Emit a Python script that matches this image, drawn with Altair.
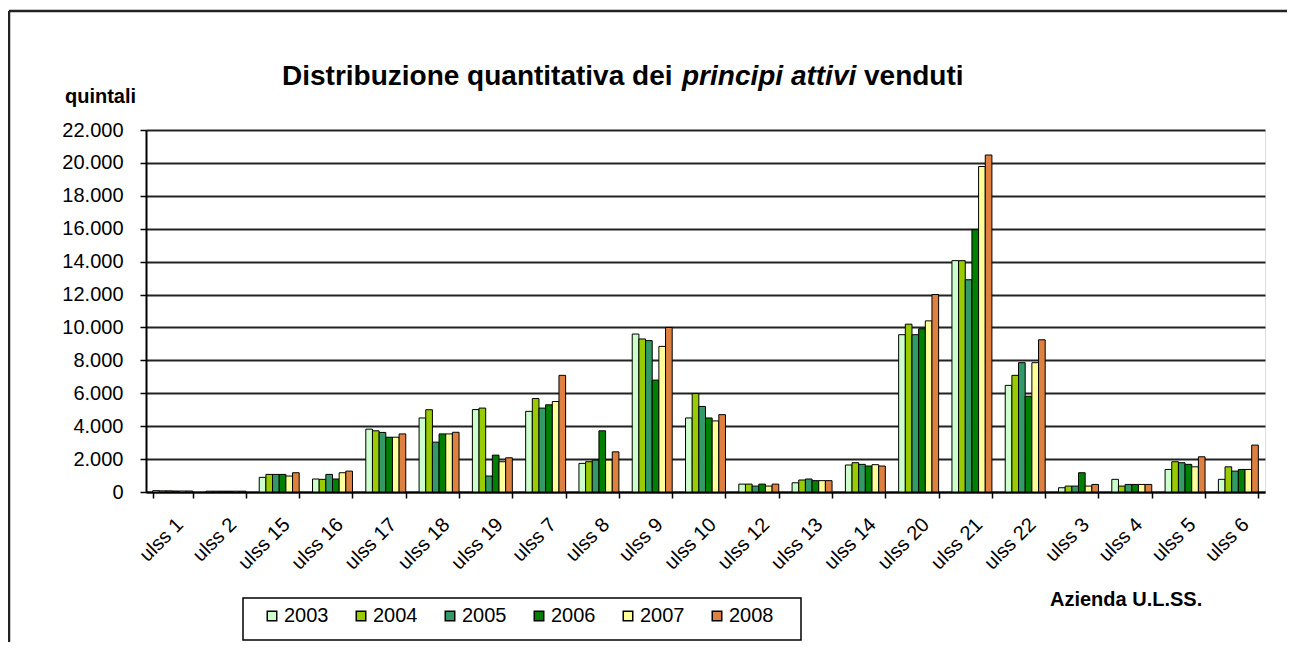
import altair as alt
import pandas as pd

categories = ["ulss 1", "ulss 2", "ulss 15", "ulss 16", "ulss 17", "ulss 18", "ulss 19",
              "ulss 7", "ulss 8", "ulss 9", "ulss 10", "ulss 12", "ulss 13", "ulss 14",
              "ulss 20", "ulss 21", "ulss 22", "ulss 3", "ulss 4", "ulss 5", "ulss 6"]
years = ["2003", "2004", "2005", "2006", "2007", "2008"]

v2003 = [80, 50, 890, 790, 3820, 4500, 5010, 4900, 1740, 9600, 4500, 480, 560, 1640, 9560, 14060, 6480, 260, 770, 1370, 770]
v2004 = [70, 50, 1070, 770, 3720, 5000, 5100, 5680, 1840, 9300, 5980, 480, 730, 1780, 10200, 14060, 7090, 360, 360, 1840, 1530]
v2005 = [70, 50, 1070, 1070, 3620, 3030, 970, 5100, 1940, 9200, 5200, 360, 790, 1680, 9560, 12900, 7860, 360, 460, 1780, 1270]
v2006 = [60, 50, 1070, 790, 3330, 3530, 2240, 5300, 3720, 6800, 4500, 480, 690, 1580, 9920, 15940, 5820, 1170, 460, 1680, 1370]
v2007 = [60, 50, 970, 1170, 3330, 3530, 1840, 5500, 1940, 8850, 4320, 360, 690, 1660, 10400, 19780, 7860, 360, 460, 1530, 1370]
v2008 = [60, 50, 1170, 1270, 3530, 3630, 2080, 7090, 2440, 10000, 4700, 480, 690, 1580, 12000, 20480, 9250, 460, 460, 2140, 2850]

colors = ["#CCFFCC", "#99CC00", "#339966", "#008000", "#FFFF99", "#DD8040"]
y_ticks = [0, 2000, 4000, 6000, 8000, 10000, 12000, 14000, 16000, 18000, 20000, 22000]

series = [v2003, v2004, v2005, v2006, v2007, v2008]
rows = []
for yr, vals in zip(years, series):
    for c, v in zip(categories, vals):
        rows.append({"ulss": c, "anno": yr, "quintali": v})
df = pd.DataFrame(rows)

FONT = "Liberation Sans, Arial, sans-serif"

bars = alt.Chart(df).mark_bar(stroke="black", strokeWidth=1).encode(
    x=alt.X("ulss:N", sort=categories,
            scale=alt.Scale(paddingInner=0.25, paddingOuter=0.125),
            axis=alt.Axis(title=None, labelAngle=-45, labelFontSize=20, labelFont=FONT,
                          labelColor="black", domainColor="black", domainWidth=2,
                          tickColor="black", tickSize=6, tickWidth=1.5, tickBand="extent",
                          labelPadding=16, grid=False)),
    xOffset=alt.XOffset("anno:N", sort=years, scale=alt.Scale(paddingInner=0, paddingOuter=0)),
    y=alt.Y("quintali:Q", scale=alt.Scale(domain=[0, 22000], nice=False),
            axis=alt.Axis(title=None, values=y_ticks,
                          labelExpr="replace(format(datum.value, ',d'), ',', '.')",
                          labelFontSize=20, labelFont=FONT, labelColor="black",
                          domainColor="black", domainWidth=2, tickColor="black",
                          tickSize=6, tickWidth=1.5, labelPadding=17,
                          grid=True, gridColor="#222222", gridWidth=1.8)),
    color=alt.Color("anno:N", sort=years,
                    scale=alt.Scale(domain=years, range=colors),
                    legend=alt.Legend(orient="none", legendX=116, legendY=476,
                                      direction="horizontal", columns=6, title=None,
                                      symbolType="square", symbolSize=90,
                                      symbolStrokeColor="black", symbolStrokeWidth=1.5,
                                      labelFontSize=20, labelFont=FONT, labelColor="black",
                                      labelOffset=2, columnPadding=22, padding=0)),
)

one = pd.DataFrame({"k": [0]})

legend_box = alt.Chart(one).mark_rect(fill="transparent", stroke="black", strokeWidth=1.5).encode(
    x=alt.value(97), x2=alt.value(655), y=alt.value(468), y2=alt.value(510))

border_top = alt.Chart(one).mark_rule(color="#222222", strokeWidth=2.5).encode(
    x=alt.value(-137), x2=alt.value(1141), y=alt.value(-119))
border_left = alt.Chart(one).mark_rule(color="#222222", strokeWidth=2.5).encode(
    x=alt.value(-137), y=alt.value(-119), y2=alt.value(512))

title_parts = [
    ("Distribuzione quantitativa dei", "normal", 136),
    ("principi attivi", "italic", 536),
    ("venduti", "normal", 718),
]
title_layers = []
for txt, style, xpos in title_parts:
    title_layers.append(
        alt.Chart(one).mark_text(text=txt, font=FONT, fontSize=28, fontWeight="bold",
                                 fontStyle=style, align="left", baseline="middle",
                                 color="black").encode(x=alt.value(xpos), y=alt.value(-53)))

quintali = alt.Chart(one).mark_text(text="quintali", font=FONT, fontSize=20, fontWeight="bold",
                                    align="left", baseline="middle", color="black").encode(
    x=alt.value(-81), y=alt.value(-33))
azienda = alt.Chart(one).mark_text(text="Azienda U.L.SS.", font=FONT, fontSize=20, fontWeight="bold",
                                   align="left", baseline="middle", color="black").encode(
    x=alt.value(904), y=alt.value(470))

chart = alt.layer(bars, legend_box, border_top, border_left, *title_layers, quintali, azienda).properties(
    width=1119, height=362,
    autosize=alt.AutoSizeParams(type="none"),
    padding={"left": 138, "top": 122, "right": 22, "bottom": 150},
).configure_view(stroke="#999999", strokeWidth=2).configure(background="white")

chart.save("out.html", embed_options={"renderer": "svg", "actions": False})
